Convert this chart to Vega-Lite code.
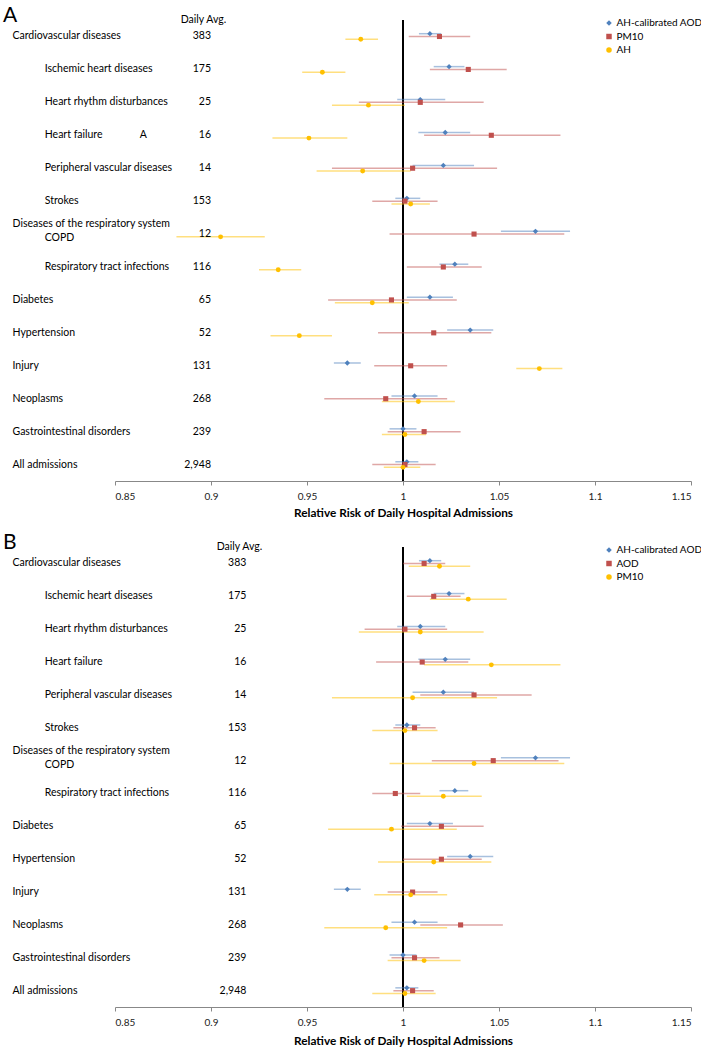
{
  "$schema": "https://vega.github.io/schema/vega-lite/v6.json",
  "padding": {"left": 3, "top": 5, "right": 0, "bottom": 0},
  "config": {
    "font": "Lato",
    "view": {"stroke": null},
    "axis": {"labelFont": "Lato", "titleFont": "Lato"},
    "legend": {"labelFont": "Lato"}
  },
  "datasets": {
    "causes": [
      {"cause": "Cardiovascular diseases", "daily": "383"},
      {"cause": "Ischemic heart diseases", "daily": "175"},
      {"cause": "Heart rhythm disturbances", "daily": "25"},
      {"cause": "Heart failure", "daily": "16"},
      {"cause": "Peripheral vascular diseases", "daily": "14"},
      {"cause": "Strokes", "daily": "153"},
      {"cause": "COPD", "daily": "12"},
      {"cause": "Respiratory tract infections", "daily": "116"},
      {"cause": "Diabetes", "daily": "65"},
      {"cause": "Hypertension", "daily": "52"},
      {"cause": "Injury", "daily": "131"},
      {"cause": "Neoplasms", "daily": "268"},
      {"cause": "Gastrointestinal disorders", "daily": "239"},
      {"cause": "All admissions", "daily": "2,948"}
    ],
    "est": [
      {"panel": "A", "series": "AH-calibrated AOD", "cause": "Cardiovascular diseases", "rr": 1.014, "lo": 1.0083, "hi": 1.0199},
      {"panel": "A", "series": "AH-calibrated AOD", "cause": "Ischemic heart diseases", "rr": 1.024, "lo": 1.016, "hi": 1.032},
      {"panel": "A", "series": "AH-calibrated AOD", "cause": "Heart rhythm disturbances", "rr": 1.009, "lo": 0.997, "hi": 1.022},
      {"panel": "A", "series": "AH-calibrated AOD", "cause": "Heart failure", "rr": 1.022, "lo": 1.008, "hi": 1.035},
      {"panel": "A", "series": "AH-calibrated AOD", "cause": "Peripheral vascular diseases", "rr": 1.021, "lo": 1.005, "hi": 1.037},
      {"panel": "A", "series": "AH-calibrated AOD", "cause": "Strokes", "rr": 1.002, "lo": 0.996, "hi": 1.009},
      {"panel": "A", "series": "AH-calibrated AOD", "cause": "COPD", "rr": 1.069, "lo": 1.051, "hi": 1.087},
      {"panel": "A", "series": "AH-calibrated AOD", "cause": "Respiratory tract infections", "rr": 1.027, "lo": 1.019, "hi": 1.034},
      {"panel": "A", "series": "AH-calibrated AOD", "cause": "Diabetes", "rr": 1.014, "lo": 1.002, "hi": 1.026},
      {"panel": "A", "series": "AH-calibrated AOD", "cause": "Hypertension", "rr": 1.035, "lo": 1.023, "hi": 1.047},
      {"panel": "A", "series": "AH-calibrated AOD", "cause": "Injury", "rr": 0.971, "lo": 0.964, "hi": 0.978},
      {"panel": "A", "series": "AH-calibrated AOD", "cause": "Neoplasms", "rr": 1.006, "lo": 0.994, "hi": 1.018},
      {"panel": "A", "series": "AH-calibrated AOD", "cause": "Gastrointestinal disorders", "rr": 1.0, "lo": 0.993, "hi": 1.007},
      {"panel": "A", "series": "AH-calibrated AOD", "cause": "All admissions", "rr": 1.002, "lo": 0.996, "hi": 1.008},
      {"panel": "A", "series": "PM10", "cause": "Cardiovascular diseases", "rr": 1.019, "lo": 1.003, "hi": 1.035},
      {"panel": "A", "series": "PM10", "cause": "Ischemic heart diseases", "rr": 1.034, "lo": 1.014, "hi": 1.054},
      {"panel": "A", "series": "PM10", "cause": "Heart rhythm disturbances", "rr": 1.009, "lo": 0.977, "hi": 1.042},
      {"panel": "A", "series": "PM10", "cause": "Heart failure", "rr": 1.046, "lo": 1.011, "hi": 1.082},
      {"panel": "A", "series": "PM10", "cause": "Peripheral vascular diseases", "rr": 1.005, "lo": 0.963, "hi": 1.049},
      {"panel": "A", "series": "PM10", "cause": "Strokes", "rr": 1.001, "lo": 0.984, "hi": 1.018},
      {"panel": "A", "series": "PM10", "cause": "COPD", "rr": 1.037, "lo": 0.993, "hi": 1.084},
      {"panel": "A", "series": "PM10", "cause": "Respiratory tract infections", "rr": 1.021, "lo": 1.002, "hi": 1.041},
      {"panel": "A", "series": "PM10", "cause": "Diabetes", "rr": 0.994, "lo": 0.961, "hi": 1.028},
      {"panel": "A", "series": "PM10", "cause": "Hypertension", "rr": 1.016, "lo": 0.987, "hi": 1.046},
      {"panel": "A", "series": "PM10", "cause": "Injury", "rr": 1.004, "lo": 0.985, "hi": 1.023},
      {"panel": "A", "series": "PM10", "cause": "Neoplasms", "rr": 0.991, "lo": 0.959, "hi": 1.023},
      {"panel": "A", "series": "PM10", "cause": "Gastrointestinal disorders", "rr": 1.011, "lo": 0.992, "hi": 1.03},
      {"panel": "A", "series": "PM10", "cause": "All admissions", "rr": 1.001, "lo": 0.984, "hi": 1.017},
      {"panel": "A", "series": "AH", "cause": "Cardiovascular diseases", "rr": 0.978, "lo": 0.97, "hi": 0.987},
      {"panel": "A", "series": "AH", "cause": "Ischemic heart diseases", "rr": 0.958, "lo": 0.9475, "hi": 0.97},
      {"panel": "A", "series": "AH", "cause": "Heart rhythm disturbances", "rr": 0.982, "lo": 0.963, "hi": 1.001},
      {"panel": "A", "series": "AH", "cause": "Heart failure", "rr": 0.951, "lo": 0.932, "hi": 0.971},
      {"panel": "A", "series": "AH", "cause": "Peripheral vascular diseases", "rr": 0.979, "lo": 0.955, "hi": 1.004},
      {"panel": "A", "series": "AH", "cause": "Strokes", "rr": 1.004, "lo": 0.994, "hi": 1.014},
      {"panel": "A", "series": "AH", "cause": "COPD", "rr": 0.905, "lo": 0.882, "hi": 0.928},
      {"panel": "A", "series": "AH", "cause": "Respiratory tract infections", "rr": 0.935, "lo": 0.925, "hi": 0.947},
      {"panel": "A", "series": "AH", "cause": "Diabetes", "rr": 0.984, "lo": 0.9645, "hi": 1.003},
      {"panel": "A", "series": "AH", "cause": "Hypertension", "rr": 0.946, "lo": 0.931, "hi": 0.963},
      {"panel": "A", "series": "AH", "cause": "Injury", "rr": 1.071, "lo": 1.059, "hi": 1.083},
      {"panel": "A", "series": "AH", "cause": "Neoplasms", "rr": 1.008, "lo": 0.989, "hi": 1.027},
      {"panel": "A", "series": "AH", "cause": "Gastrointestinal disorders", "rr": 1.001, "lo": 0.989, "hi": 1.012},
      {"panel": "A", "series": "AH", "cause": "All admissions", "rr": 1.0, "lo": 0.99, "hi": 1.009},
      {"panel": "B", "series": "AH-calibrated AOD", "cause": "Cardiovascular diseases", "rr": 1.014, "lo": 1.0083, "hi": 1.0199},
      {"panel": "B", "series": "AH-calibrated AOD", "cause": "Ischemic heart diseases", "rr": 1.024, "lo": 1.016, "hi": 1.032},
      {"panel": "B", "series": "AH-calibrated AOD", "cause": "Heart rhythm disturbances", "rr": 1.009, "lo": 0.997, "hi": 1.022},
      {"panel": "B", "series": "AH-calibrated AOD", "cause": "Heart failure", "rr": 1.022, "lo": 1.008, "hi": 1.035},
      {"panel": "B", "series": "AH-calibrated AOD", "cause": "Peripheral vascular diseases", "rr": 1.021, "lo": 1.005, "hi": 1.037},
      {"panel": "B", "series": "AH-calibrated AOD", "cause": "Strokes", "rr": 1.002, "lo": 0.996, "hi": 1.009},
      {"panel": "B", "series": "AH-calibrated AOD", "cause": "COPD", "rr": 1.069, "lo": 1.051, "hi": 1.087},
      {"panel": "B", "series": "AH-calibrated AOD", "cause": "Respiratory tract infections", "rr": 1.027, "lo": 1.019, "hi": 1.034},
      {"panel": "B", "series": "AH-calibrated AOD", "cause": "Diabetes", "rr": 1.014, "lo": 1.002, "hi": 1.026},
      {"panel": "B", "series": "AH-calibrated AOD", "cause": "Hypertension", "rr": 1.035, "lo": 1.023, "hi": 1.047},
      {"panel": "B", "series": "AH-calibrated AOD", "cause": "Injury", "rr": 0.971, "lo": 0.964, "hi": 0.978},
      {"panel": "B", "series": "AH-calibrated AOD", "cause": "Neoplasms", "rr": 1.006, "lo": 0.994, "hi": 1.018},
      {"panel": "B", "series": "AH-calibrated AOD", "cause": "Gastrointestinal disorders", "rr": 1.0, "lo": 0.993, "hi": 1.007},
      {"panel": "B", "series": "AH-calibrated AOD", "cause": "All admissions", "rr": 1.002, "lo": 0.996, "hi": 1.008},
      {"panel": "B", "series": "AOD", "cause": "Cardiovascular diseases", "rr": 1.011, "lo": 1.0, "hi": 1.022},
      {"panel": "B", "series": "AOD", "cause": "Ischemic heart diseases", "rr": 1.016, "lo": 1.002, "hi": 1.03},
      {"panel": "B", "series": "AOD", "cause": "Heart rhythm disturbances", "rr": 1.001, "lo": 0.98, "hi": 1.023},
      {"panel": "B", "series": "AOD", "cause": "Heart failure", "rr": 1.01, "lo": 0.986, "hi": 1.034},
      {"panel": "B", "series": "AOD", "cause": "Peripheral vascular diseases", "rr": 1.037, "lo": 1.009, "hi": 1.067},
      {"panel": "B", "series": "AOD", "cause": "Strokes", "rr": 1.006, "lo": 0.995, "hi": 1.017},
      {"panel": "B", "series": "AOD", "cause": "COPD", "rr": 1.047, "lo": 1.015, "hi": 1.081},
      {"panel": "B", "series": "AOD", "cause": "Respiratory tract infections", "rr": 0.996, "lo": 0.984, "hi": 1.009},
      {"panel": "B", "series": "AOD", "cause": "Diabetes", "rr": 1.02, "lo": 0.999, "hi": 1.042},
      {"panel": "B", "series": "AOD", "cause": "Hypertension", "rr": 1.02, "lo": 1.0, "hi": 1.041},
      {"panel": "B", "series": "AOD", "cause": "Injury", "rr": 1.005, "lo": 0.992, "hi": 1.018},
      {"panel": "B", "series": "AOD", "cause": "Neoplasms", "rr": 1.03, "lo": 1.009, "hi": 1.052},
      {"panel": "B", "series": "AOD", "cause": "Gastrointestinal disorders", "rr": 1.006, "lo": 0.994, "hi": 1.019},
      {"panel": "B", "series": "AOD", "cause": "All admissions", "rr": 1.005, "lo": 0.995, "hi": 1.016},
      {"panel": "B", "series": "PM10", "cause": "Cardiovascular diseases", "rr": 1.019, "lo": 1.003, "hi": 1.035},
      {"panel": "B", "series": "PM10", "cause": "Ischemic heart diseases", "rr": 1.034, "lo": 1.014, "hi": 1.054},
      {"panel": "B", "series": "PM10", "cause": "Heart rhythm disturbances", "rr": 1.009, "lo": 0.977, "hi": 1.042},
      {"panel": "B", "series": "PM10", "cause": "Heart failure", "rr": 1.046, "lo": 1.011, "hi": 1.082},
      {"panel": "B", "series": "PM10", "cause": "Peripheral vascular diseases", "rr": 1.005, "lo": 0.963, "hi": 1.049},
      {"panel": "B", "series": "PM10", "cause": "Strokes", "rr": 1.001, "lo": 0.984, "hi": 1.018},
      {"panel": "B", "series": "PM10", "cause": "COPD", "rr": 1.037, "lo": 0.993, "hi": 1.084},
      {"panel": "B", "series": "PM10", "cause": "Respiratory tract infections", "rr": 1.021, "lo": 1.002, "hi": 1.041},
      {"panel": "B", "series": "PM10", "cause": "Diabetes", "rr": 0.994, "lo": 0.961, "hi": 1.028},
      {"panel": "B", "series": "PM10", "cause": "Hypertension", "rr": 1.016, "lo": 0.987, "hi": 1.046},
      {"panel": "B", "series": "PM10", "cause": "Injury", "rr": 1.004, "lo": 0.985, "hi": 1.023},
      {"panel": "B", "series": "PM10", "cause": "Neoplasms", "rr": 0.991, "lo": 0.959, "hi": 1.023},
      {"panel": "B", "series": "PM10", "cause": "Gastrointestinal disorders", "rr": 1.011, "lo": 0.992, "hi": 1.03},
      {"panel": "B", "series": "PM10", "cause": "All admissions", "rr": 1.001, "lo": 0.984, "hi": 1.017}
    ]
  },
  "resolve": {"scale": {"color": "independent", "stroke": "independent", "shape": "independent", "size": "independent", "yOffset": "independent", "x": "independent", "y": "independent"}, "legend": {"color": "independent", "shape": "independent"}},
  "spacing": 13,
  "vconcat": [
    {
      "title": {"text": "A", "anchor": "start", "frame": "bounds", "fontSize": 21, "fontWeight": "normal", "font": "Lato", "dx": -9, "offset": -29, "baseline": "alphabetic"},
      "width": 576,
      "height": 461,
      "layer": [
        {
          "data": {"name": "causes"},
          "mark": {"type": "rule", "color": "#000000", "strokeWidth": 1.8},
          "encoding": {"x": {"datum": 1, "type": "quantitative"}}
        },
        {
          "data": {"name": "est"},
          "transform": [{"filter": "datum.panel == 'A'"}],
          "mark": {"type": "rule", "strokeWidth": 1.5, "opacity": 0.5},
          "encoding": {
            "y": {"field": "cause", "type": "nominal"},
            "yOffset": {"field": "series", "type": "nominal", "scale": {"type": "point", "domain": ["AH-calibrated AOD", "PM10", "AH"], "range": [12.3, 20.7]}},
            "x": {"field": "lo", "type": "quantitative"},
            "x2": {"field": "hi"},
            "stroke": {"field": "series", "type": "nominal", "scale": {"domain": ["AH", "PM10", "AH-calibrated AOD"], "range": ["#ffc000", "#c0504d", "#4f81bd"]}, "legend": null}
          }
        },
        {
          "data": {"name": "est"},
          "transform": [{"filter": "datum.panel == 'A'"}],
          "mark": {"type": "point", "filled": true, "opacity": 1},
          "encoding": {
            "y": {"field": "cause", "type": "nominal"},
            "yOffset": {"field": "series", "type": "nominal"},
            "x": {"field": "rr", "type": "quantitative"},
            "color": {"field": "series", "type": "nominal", "scale": {"domain": ["AH-calibrated AOD", "PM10", "AH"], "range": ["#4f81bd", "#c0504d", "#ffc000"]}, "legend": {"title": null, "orient": "none", "legendX": 489, "legendY": -2, "labelFontSize": 10, "symbolSize": 30, "rowPadding": 3.5, "labelOffset": 2.5, "padding": 0}},
            "shape": {"field": "series", "type": "nominal", "scale": {"domain": ["AH-calibrated AOD", "PM10", "AH"], "range": ["diamond", "square", "circle"]}, "legend": {"title": null, "orient": "none", "legendX": 489, "legendY": -2, "labelFontSize": 10, "symbolSize": 30, "rowPadding": 3.5, "labelOffset": 2.5, "padding": 0}},
            "size": {"field": "series", "type": "nominal", "scale": {"domain": ["AH", "PM10", "AH-calibrated AOD"], "range": [24, 28, 55]}, "legend": null}
          }
        },
        {
          "data": {"name": "causes"},
          "mark": {"type": "text", "align": "right", "baseline": "middle", "fontSize": 10.5, "font": "Lato", "color": "#000000"},
          "encoding": {
            "y": {
              "field": "cause", "type": "nominal",
              "scale": {"type": "band", "domain": ["Cardiovascular diseases", "Ischemic heart diseases", "Heart rhythm disturbances", "Heart failure", "Peripheral vascular diseases", "Strokes", "COPD", "Respiratory tract infections", "Diabetes", "Hypertension", "Injury", "Neoplasms", "Gastrointestinal disorders", "All admissions"], "paddingInner": 0, "paddingOuter": 0},
              "axis": {
                "title": "Daily Avg.", "titleAngle": 0, "titleAlign": "center", "titleBaseline": "alphabetic", "titleX": 88, "titleY": 2, "titleFontSize": 10.5, "titleFontWeight": "normal", "titleColor": "#000000",
                "domain": false, "ticks": false, "tickSize": 0, "labelAlign": "left", "labelPadding": 103, "labelFontSize": 10.5, "labelColor": "#000000", "labelLimit": 400, "labelOverlap": false, "labelBound": false, "labelLineHeight": 14,
                "labelOffset": {"condition": {"test": "datum.value == 'COPD'", "value": -10}, "value": 0},
                "labelExpr": "datum.value == 'COPD' ? ['Diseases of the respiratory system', '\u200b\u00a0\u00a0\u00a0\u00a0\u00a0\u00a0\u00a0\u00a0\u00a0\u00a0\u00a0\u00a0COPD'] : datum.value == 'Heart failure' ? '\u200b\u00a0\u00a0\u00a0\u00a0\u00a0\u00a0\u00a0\u00a0\u00a0\u00a0\u00a0\u00a0Heart failure\u00a0\u00a0\u00a0\u00a0\u00a0\u00a0\u00a0\u00a0\u00a0\u00a0\u00a0\u00a0\u00a0\u00a0A' : indexof(['Ischemic heart diseases','Heart rhythm disturbances','Peripheral vascular diseases','Strokes','Respiratory tract infections'], datum.value) >= 0 ? '\u200b\u00a0\u00a0\u00a0\u00a0\u00a0\u00a0\u00a0\u00a0\u00a0\u00a0\u00a0\u00a0' + datum.value : datum.value"
              }
            },
            "x": {
              "datum": 0.9, "type": "quantitative",
              "scale": {"domain": [0.85, 1.15], "nice": false, "zero": false, "padding": 0},
              "axis": {"values": [0.85, 0.9, 0.95, 1, 1.05, 1.1, 1.15], "format": "~g", "grid": false, "domainColor": "#888888", "tickColor": "#888888", "tickSize": 4, "labelFontSize": 10, "labelColor": "#222222", "labelPadding": 6, "title": "Relative Risk of Daily Hospital Admissions", "titleFontSize": 11.8, "titleFontWeight": "bold", "titleColor": "#000000", "titlePadding": 6}
            },
            "text": {"field": "daily"}
          }
        }
      ]
    },
    {
      "title": {"text": "B", "anchor": "start", "frame": "bounds", "fontSize": 21, "fontWeight": "normal", "font": "Lato", "dx": -9, "offset": -29, "baseline": "alphabetic"},
      "width": 576,
      "height": 460,
      "layer": [
        {
          "data": {"name": "causes"},
          "mark": {"type": "rule", "color": "#000000", "strokeWidth": 1.8},
          "encoding": {"x": {"datum": 1, "type": "quantitative"}}
        },
        {
          "data": {"name": "est"},
          "transform": [{"filter": "datum.panel == 'B'"}],
          "mark": {"type": "rule", "strokeWidth": 1.5, "opacity": 0.5},
          "encoding": {
            "y": {"field": "cause", "type": "nominal"},
            "yOffset": {"field": "series", "type": "nominal", "scale": {"type": "point", "domain": ["AH-calibrated AOD", "AOD", "PM10"], "range": [12.3, 20.7]}},
            "x": {"field": "lo", "type": "quantitative"},
            "x2": {"field": "hi"},
            "stroke": {"field": "series", "type": "nominal", "scale": {"domain": ["PM10", "AOD", "AH-calibrated AOD"], "range": ["#ffc000", "#c0504d", "#4f81bd"]}, "legend": null}
          }
        },
        {
          "data": {"name": "est"},
          "transform": [{"filter": "datum.panel == 'B'"}],
          "mark": {"type": "point", "filled": true, "opacity": 1},
          "encoding": {
            "y": {"field": "cause", "type": "nominal"},
            "yOffset": {"field": "series", "type": "nominal"},
            "x": {"field": "rr", "type": "quantitative"},
            "color": {"field": "series", "type": "nominal", "scale": {"domain": ["AH-calibrated AOD", "AOD", "PM10"], "range": ["#4f81bd", "#c0504d", "#ffc000"]}, "legend": {"title": null, "orient": "none", "legendX": 489, "legendY": -2, "labelFontSize": 10, "symbolSize": 30, "rowPadding": 3.5, "labelOffset": 2.5, "padding": 0}},
            "shape": {"field": "series", "type": "nominal", "scale": {"domain": ["AH-calibrated AOD", "AOD", "PM10"], "range": ["diamond", "square", "circle"]}, "legend": {"title": null, "orient": "none", "legendX": 489, "legendY": -2, "labelFontSize": 10, "symbolSize": 30, "rowPadding": 3.5, "labelOffset": 2.5, "padding": 0}},
            "size": {"field": "series", "type": "nominal", "scale": {"domain": ["PM10", "AOD", "AH-calibrated AOD"], "range": [24, 28, 55]}, "legend": null}
          }
        },
        {
          "data": {"name": "causes"},
          "mark": {"type": "text", "align": "right", "baseline": "middle", "fontSize": 10.5, "font": "Lato", "color": "#000000"},
          "encoding": {
            "y": {
              "field": "cause", "type": "nominal",
              "scale": {"type": "band", "domain": ["Cardiovascular diseases", "Ischemic heart diseases", "Heart rhythm disturbances", "Heart failure", "Peripheral vascular diseases", "Strokes", "COPD", "Respiratory tract infections", "Diabetes", "Hypertension", "Injury", "Neoplasms", "Gastrointestinal disorders", "All admissions"], "paddingInner": 0, "paddingOuter": 0},
              "axis": {
                "title": "Daily Avg.", "titleAngle": 0, "titleAlign": "center", "titleBaseline": "alphabetic", "titleX": 124, "titleY": 2, "titleFontSize": 10.5, "titleFontWeight": "normal", "titleColor": "#000000",
                "domain": false, "ticks": false, "tickSize": 0, "labelAlign": "left", "labelPadding": 103, "labelFontSize": 10.5, "labelColor": "#000000", "labelLimit": 400, "labelOverlap": false, "labelBound": false, "labelLineHeight": 14,
                "labelOffset": {"condition": {"test": "datum.value == 'COPD'", "value": -10}, "value": 0},
                "labelExpr": "datum.value == 'COPD' ? ['Diseases of the respiratory system', '\u200b\u00a0\u00a0\u00a0\u00a0\u00a0\u00a0\u00a0\u00a0\u00a0\u00a0\u00a0\u00a0COPD'] : indexof(['Ischemic heart diseases','Heart rhythm disturbances','Heart failure','Peripheral vascular diseases','Strokes','Respiratory tract infections'], datum.value) >= 0 ? '\u200b\u00a0\u00a0\u00a0\u00a0\u00a0\u00a0\u00a0\u00a0\u00a0\u00a0\u00a0\u00a0' + datum.value : datum.value"
              }
            },
            "x": {
              "datum": 0.9184, "type": "quantitative",
              "scale": {"domain": [0.85, 1.15], "nice": false, "zero": false, "padding": 0},
              "axis": {"values": [0.85, 0.9, 0.95, 1, 1.05, 1.1, 1.15], "format": "~g", "grid": false, "domainColor": "#888888", "tickColor": "#888888", "tickSize": 4, "labelFontSize": 10, "labelColor": "#222222", "labelPadding": 6, "title": "Relative Risk of Daily Hospital Admissions", "titleFontSize": 11.8, "titleFontWeight": "bold", "titleColor": "#000000", "titlePadding": 8}
            },
            "text": {"field": "daily"}
          }
        }
      ]
    }
  ]
}
